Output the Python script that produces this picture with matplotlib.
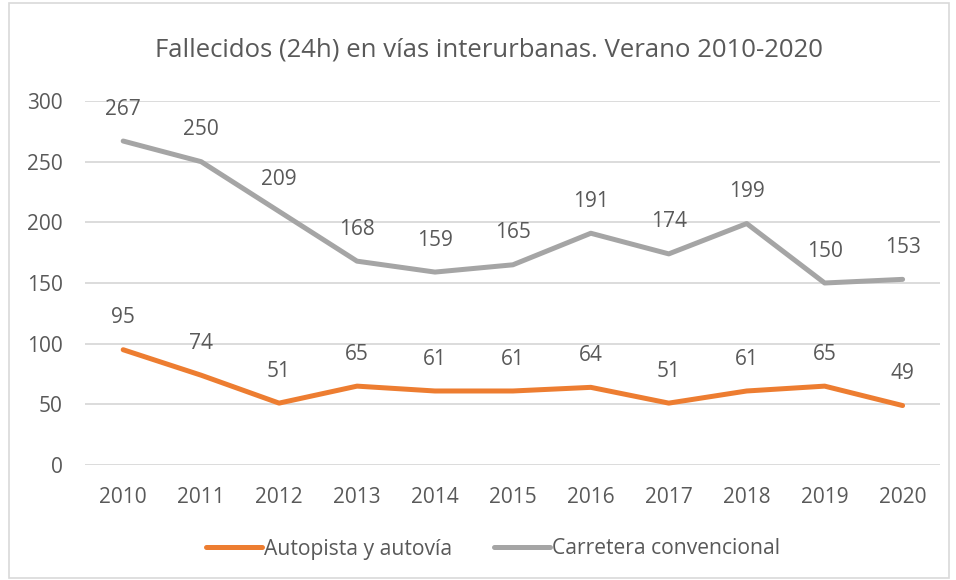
#!/usr/bin/env python3

import matplotlib.pyplot as plt
from matplotlib.patches import Rectangle

years = ["2010", "2011", "2012", "2013", "2014", "2015",
         "2016", "2017", "2018", "2019", "2020"]
autopista = [95, 74, 51, 65, 61, 61, 64, 51, 61, 65, 49]
convencional = [267, 250, 209, 168, 159, 165, 191, 174, 199, 150, 153]

TXT = "#595959"
ORANGE = "#ED7D31"
GRAY = "#A5A5A5"


def run():
    plt.rcParams["font.family"] = ["Open Sans", "DejaVu Sans"]
    fig = plt.figure(figsize=(9.56, 5.8), dpi=100)
    ax = fig.add_axes([85 / 956, 1 - 465 / 580, 855 / 956, 364 / 580])

    x = range(len(years))
    ax.plot(x, autopista, color=ORANGE, lw=3.6, solid_capstyle="round",
            label="Autopista y autovía")
    ax.plot(x, convencional, color=GRAY, lw=3.6, solid_capstyle="round",
            label="Carretera convencional")

    for xi, v in zip(x, autopista):
        ax.annotate(str(v), (xi, v), xytext=(0, 23), textcoords="offset points",
                    ha="center", va="center", fontsize=15, color=TXT)
    for xi, v in zip(x, convencional):
        ax.annotate(str(v), (xi, v), xytext=(0, 23), textcoords="offset points",
                    ha="center", va="center", fontsize=15, color=TXT)

    ax.set_xlim(-0.49, 10.48)
    ax.set_ylim(0, 300)
    ax.set_yticks(range(0, 301, 50))
    ax.set_xticks(list(x))
    ax.set_xticklabels(years)
    ax.tick_params(length=0, labelsize=15, labelcolor=TXT)
    ax.tick_params(axis="y", pad=16)
    ax.tick_params(axis="x", pad=16)
    ax.grid(axis="y", color="#D9D9D9", lw=1.3)
    ax.set_axisbelow(True)
    for s in ax.spines.values():
        s.set_visible(False)

    fig.text(489 / 956, 1 - 50 / 580, "Fallecidos (24h) en vías interurbanas. Verano 2010-2020",
             ha="center", va="center", fontsize=18.5, color=TXT)

    fig.legend(loc="center", bbox_to_anchor=(493 / 956, 1 - 549 / 580),
               ncol=2, frameon=False, fontsize=15.2, labelcolor=TXT,
               handlelength=2.65, handletextpad=0.1, columnspacing=2.0)

    fig.patches.append(Rectangle((9 / 956, 2 / 580), 940 / 956, 575 / 580,
                                 transform=fig.transFigure, fill=False,
                                 edgecolor="#D9D9D9", lw=1.2))

    fig.savefig("out.png", dpi=100)


if __name__ == "__main__":
    run()
